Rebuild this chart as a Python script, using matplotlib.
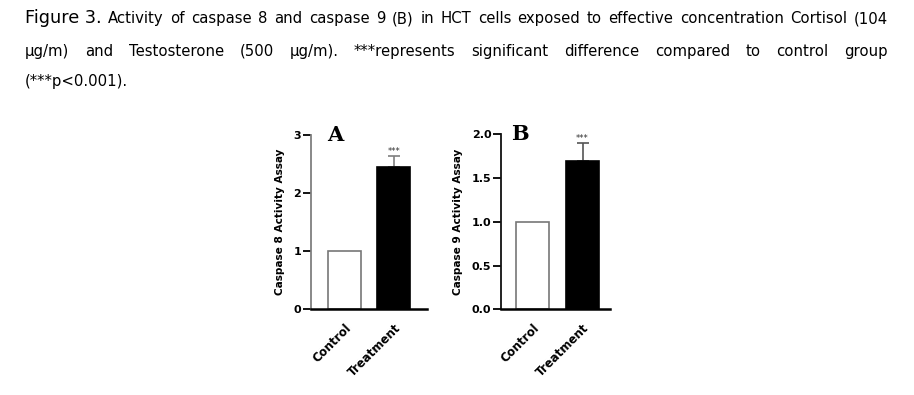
import matplotlib.pyplot as plt

groups = ["Control", "Treatment"]
casp8 = [1.0, 2.44]
casp8_err = [0.0, 0.20]
casp9 = [1.0, 1.70]
casp9_err = [0.0, 0.20]

caption_lines = [
    "Activity of caspase 8 and caspase 9 (B) in HCT cells exposed to effective concentration Cortisol (104",
    "\u03bcg/m) and Testosterone (500 \u03bcg/m). ***represents significant difference compared to control group",
    "(***p<0.001).",
]

W, H = 914, 395
fig = plt.figure(figsize=(W / 100, H / 100), dpi=100)
capfont = "DejaVu Sans"


def justify(words, y, x0, x1, size, first=None):
    # place words on one baseline so the line fills x0..x1 (pixel coords)
    r = fig.canvas.get_renderer()
    items = []
    if first:
        items.append((first, 12.7))
    items += [(w, size) for w in words]
    arts = [fig.text(0, 1 - y / H, t, fontsize=s, family=capfont, va="baseline", ha="left")
            for t, s in items]
    widths = [a.get_window_extent(r).width for a in arts]
    gap = (x1 - x0 - sum(widths)) / (len(arts) - 1)
    x = x0
    for a, w in zip(arts, widths):
        a.set_x(x / W)
        x += w + gap


justify(caption_lines[0].split(), 23, 25, 888, 10.7, first="Figure 3.")
justify(caption_lines[1].split(), 56, 25, 888, 10.7)
fig.text(25 / W, 1 - 86 / H, caption_lines[2], fontsize=10.7, family=capfont, va="baseline")


def panel(rect, vals, errs, ylim, ticks, ticklabels, ylabel, letter, letter_x, edge, err_c):
    ax = fig.add_axes(rect)
    x = range(len(vals))
    ax.bar(x, vals, width=0.67, color=["white", "black"], edgecolor=["#777777", "black"],
           linewidth=1.2, zorder=2)
    ax.errorbar([1], [vals[1]], yerr=[[0], [errs[1]]], fmt="none", ecolor=err_c,
                elinewidth=1.2, capsize=4.5, capthick=1.2, zorder=1)
    ax.text(1, vals[1] + errs[1], "***", ha="center", va="bottom", fontsize=6,
            color="#333333")
    ax.set_ylim(*ylim)
    ax.set_yticks(ticks)
    ax.set_yticklabels(ticklabels, fontsize=8, fontweight="bold")
    ax.set_xticks(list(x))
    ax.set_xticklabels(groups, rotation=45, ha="right", rotation_mode="anchor",
                       fontsize=8.5, fontweight="bold")
    ax.tick_params(axis="x", length=0, pad=9)
    ax.tick_params(axis="y", length=6, width=1.3, pad=1, colors="black")
    ax.set_ylabel(ylabel, fontsize=7.6, fontweight="bold", labelpad=6)
    for s in ("top", "right"):
        ax.spines[s].set_visible(False)
    ax.spines["left"].set_color(edge)
    ax.spines["left"].set_linewidth(1.3)
    ax.spines["bottom"].set_linewidth(1.8)
    ax.text(letter_x, ylim[1], letter, fontsize=15, fontweight="bold",
            family="DejaVu Serif", va="center", ha="left")
    return ax


axA = panel([311 / W, (H - 309) / H, 116 / W, 174 / H], casp8, casp8_err, (0, 3),
            [0, 1, 2, 3], ["0", "1", "2", "3"], "Caspase 8 Activity Assay", "A", -0.36,
            "#7f7f7f", "#7f7f7f")
axA.set_xlim(-0.68, 1.67)
axB = panel([501 / W, (H - 309.3) / H, 109 / W, 175 / H], casp9, casp9_err, (0, 2.0),
            [0, 0.5, 1.0, 1.5, 2.0], ["0.0", "0.5", "1.0", "1.5", "2.0"],
            "Caspase 9 Activity Assay", "B", -0.42, "#111111", "#555555")
axB.set_xlim(-0.63, 1.55)

fig.savefig("out.png", dpi=100)
